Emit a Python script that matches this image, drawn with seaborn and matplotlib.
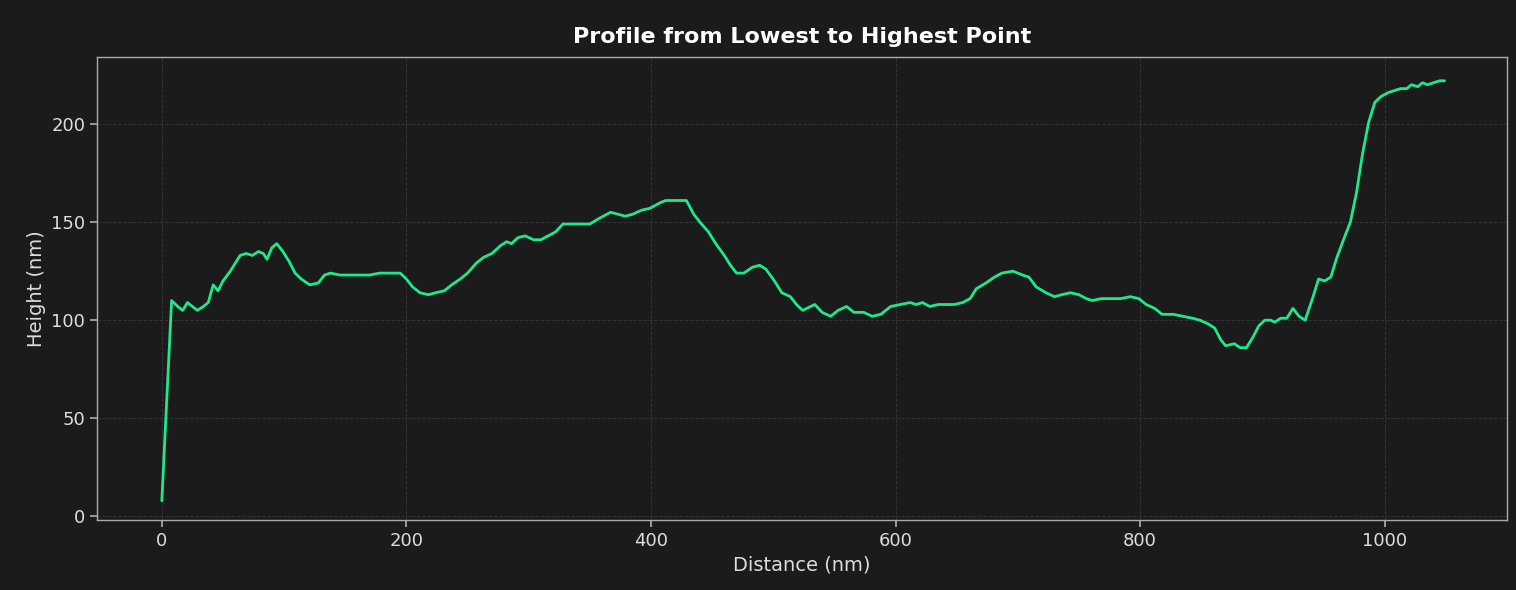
import matplotlib
matplotlib.use("Agg")
import matplotlib.pyplot as plt
import seaborn as sns
import pandas as pd

distance = [0,8,13,17,21,25,29,34,38,42,46,50,56,64,69,74,79,83,86,90,94,99,104,109,114,121,128,133,138,146,170,178,187,195,200,205,211,218,224,231,237,244,250,257,263,270,277,282,286,291,297,304,310,316,322,328,338,350,358,367,373,379,385,392,399,408,412,424,429,435,440,447,453,460,465,470,476,483,489,494,501,507,514,519,524,534,540,547,553,560,566,574,581,588,596,604,612,617,622,628,635,642,648,655,661,666,674,681,687,696,704,709,715,723,730,736,743,750,756,761,768,773,784,792,799,805,812,818,827,835,843,849,856,861,866,870,877,882,887,892,897,902,907,910,915,920,925,930,935,941,946,951,956,961,967,972,977,982,987,992,997,1003,1008,1013,1018,1022,1027,1031,1035,1040,1045,1049]
height = [8,110,107,105,109,107,105,107,109,118,115,120,125,133,134,133,135,134,131,137,139,135,130,124,121,118,119,123,124,123,123,124,124,124,121,117,114,113,114,115,118,121,124,129,132,134,138,140,139,142,143,141,141,143,145,149,149,149,152,155,154,153,154,156,157,160,161,161,161,154,150,145,139,133,128,124,124,127,128,126,120,114,112,108,105,108,104,102,105,107,104,104,102,103,107,108,109,108,109,107,108,108,108,109,111,116,119,122,124,125,123,122,117,114,112,113,114,113,111,110,111,111,111,112,111,108,106,103,103,102,101,100,98,96,90,87,88,86,86,91,97,100,100,99,101,101,106,102,100,111,121,120,122,132,142,150,165,185,201,211,214,216,217,218,218,220,219,221,220,221,222,222]

df = pd.DataFrame({"Distance": distance, "Height": height})

sns.set_theme(style="dark")
bg = "#1b1b1b"
plt.rcParams['font.family'] = ['DejaVu Sans']
fig, ax = plt.subplots(figsize=(15.16, 5.9), dpi=100)
fig.patch.set_facecolor(bg)
ax.set_facecolor(bg)
sns.lineplot(data=df, x="Distance", y="Height", color="#1de98b", linewidth=2, ax=ax)
ax.set_xlim(-53, 1100)
ax.set_ylim(-2, 234)
ax.grid(True, color="#3a3a3a", linestyle="--", linewidth=0.7, alpha=0.8)
for s in ax.spines.values():
    s.set_visible(True); s.set_color("#aaaaaa"); s.set_linewidth(1)
ax.tick_params(colors="#dddddd", labelsize=13, left=True, bottom=True, length=5, color="#aaaaaa")
ax.set_xlabel("Distance (nm)", color="#dddddd", fontsize=14)
ax.set_ylabel("Height (nm)", color="#dddddd", fontsize=14)
ax.set_title("Profile from Lowest to Highest Point", color="white", fontsize=16, fontweight="bold", pad=10)
fig.subplots_adjust(left=0.064, right=0.994, top=0.903, bottom=0.118)
fig.savefig("out.png", dpi=100, facecolor=bg)
